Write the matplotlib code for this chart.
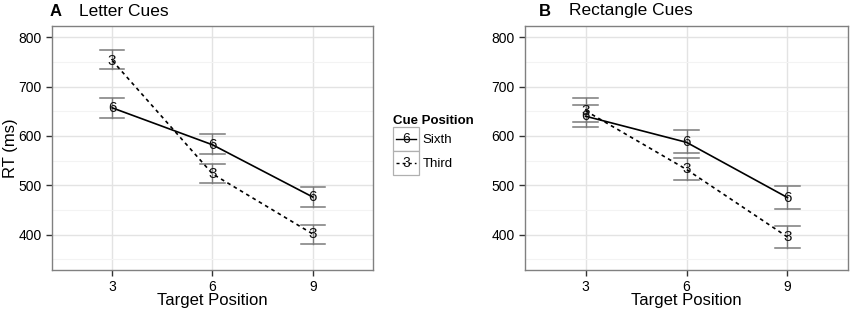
import matplotlib
matplotlib.use("Agg")
import matplotlib.pyplot as plt
from matplotlib.legend_handler import HandlerBase
from matplotlib.lines import Line2D
from matplotlib.patches import Rectangle
from matplotlib.text import Text

plt.rcParams['font.family'] = ['Liberation Sans', 'DejaVu Sans']

# data (RT in ms)
positions = ["3", "6", "9"]

letter_sixth = [657, 582, 476]
letter_sixth_lo = [637, 563, 456]
letter_sixth_hi = [677, 603, 496]
letter_third = [753, 523, 401]
letter_third_lo = [735, 504, 381]
letter_third_hi = [775, 544, 420]

rect_sixth = [640, 587, 475]
rect_sixth_lo = [618, 565, 452]
rect_sixth_hi = [663, 611, 498]
rect_third = [651, 532, 395]
rect_third_lo = [628, 510, 373]
rect_third_hi = [676, 556, 417]

GRID = '#e3e3e3'
GRID_MINOR = '#f3f3f3'
BORDER = '#808080'
ERR = '#7a7a7a'
DOT = (0, (2.2, 2.2))


def draw_panel(ax, sixth, s_lo, s_hi, third, t_lo, t_hi):
    x = list(range(len(positions)))
    for vals, lo, hi, ls, lab in [(sixth, s_lo, s_hi, '-', '6'),
                                  (third, t_lo, t_hi, DOT, '3')]:
        for xi, l, h in zip(x, lo, hi):
            ax.plot([xi, xi], [l, h], color=ERR, lw=1.0, zorder=2)
            ax.plot([xi - 0.12, xi + 0.12], [l, l], color=ERR, lw=1.1, zorder=2)
            ax.plot([xi - 0.12, xi + 0.12], [h, h], color=ERR, lw=1.1, zorder=2)
        ax.plot(x, vals, color='black', lw=1.2, linestyle=ls, zorder=3)
        for xi, v in zip(x, vals):
            ax.text(xi, v, lab, ha='center', va='center', fontsize=11,
                    color='#111111', zorder=4)

    ax.set_xlim(-0.6, 2.6)
    ax.set_ylim(329, 823)
    ax.set_xticks(x)
    ax.set_xticklabels(positions)
    ax.set_yticks([400, 500, 600, 700, 800])
    ax.set_yticks([350, 450, 550, 650, 750], minor=True)
    ax.grid(True, which='major', color=GRID, lw=1.0, zorder=0)
    ax.grid(True, which='minor', axis='y', color=GRID_MINOR, lw=0.8, zorder=0)
    ax.set_axisbelow(True)
    ax.tick_params(which='major', length=4.5, width=1, color='#333333',
                   labelsize=10, pad=3, labelcolor='black')
    ax.tick_params(which='minor', length=0)
    for s in ax.spines.values():
        s.set_color(BORDER)
        s.set_linewidth(1.0)
    ax.set_xlabel('Target Position', fontsize=12, va='center')
    ax.xaxis.set_label_coords(0.5, -0.128)


class DigitHandler(HandlerBase):
    def __init__(self, digit, ls):
        super().__init__()
        self.digit = digit
        self.ls = ls

    def create_artists(self, legend, orig_handle, xdescent, ydescent,
                       width, height, fontsize, trans):
        box = Rectangle((-xdescent, -ydescent), width, height, facecolor='white',
                        edgecolor='#b0b0b0', lw=0.9, transform=trans)
        ym = -ydescent + height / 2
        line = Line2D([-xdescent + 2, -xdescent + width - 2], [ym, ym],
                      color='black', lw=1.0, linestyle=self.ls, transform=trans)
        txt = Text(-xdescent + width / 2, ym, self.digit, ha='center',
                   va='center', fontsize=10, color='#111111', transform=trans)
        return [box, line, txt]


fig = plt.figure(figsize=(8.5, 3.11), dpi=100)
ax1 = fig.add_axes([52 / 850, 1 - 269.5 / 311, 321 / 850, 243.5 / 311])
ax2 = fig.add_axes([525 / 850, 1 - 269.5 / 311, 323 / 850, 243.5 / 311])

draw_panel(ax1, letter_sixth, letter_sixth_lo, letter_sixth_hi,
           letter_third, letter_third_lo, letter_third_hi)
draw_panel(ax2, rect_sixth, rect_sixth_lo, rect_sixth_hi,
           rect_third, rect_third_lo, rect_third_hi)

ax1.set_ylabel('RT (ms)', fontsize=12, va='center')
ax1.yaxis.set_label_coords(-0.128, 0.5)

fig.text(50 / 850, 1 - 11 / 311, 'A', fontsize=12, fontweight='bold', va='center')
fig.text(79 / 850, 1 - 11 / 311, 'Letter Cues', fontsize=12.5, va='center')
fig.text(539 / 850, 1 - 11 / 311, 'B', fontsize=12, fontweight='bold', va='center')
fig.text(569 / 850, 1 - 11 / 311, 'Rectangle Cues', fontsize=12.5, va='center')

h6 = Line2D([], [])
h3 = Line2D([], [])
leg = fig.legend([h6, h3], ['Sixth', 'Third'], title='Cue Position',
                 loc='upper left', bbox_to_anchor=(393 / 850, 1 - 115 / 311),
                 frameon=False, fontsize=9.5, borderpad=0, borderaxespad=0,
                 handlelength=1.97, handleheight=2.42, labelspacing=0,
                 handletextpad=0.25, alignment='left',
                 title_fontproperties={'weight': 'bold', 'size': 9.5},
                 handler_map={h6: DigitHandler('6', '-'),
                              h3: DigitHandler('3', DOT)})

fig.savefig('out.png', dpi=100)
